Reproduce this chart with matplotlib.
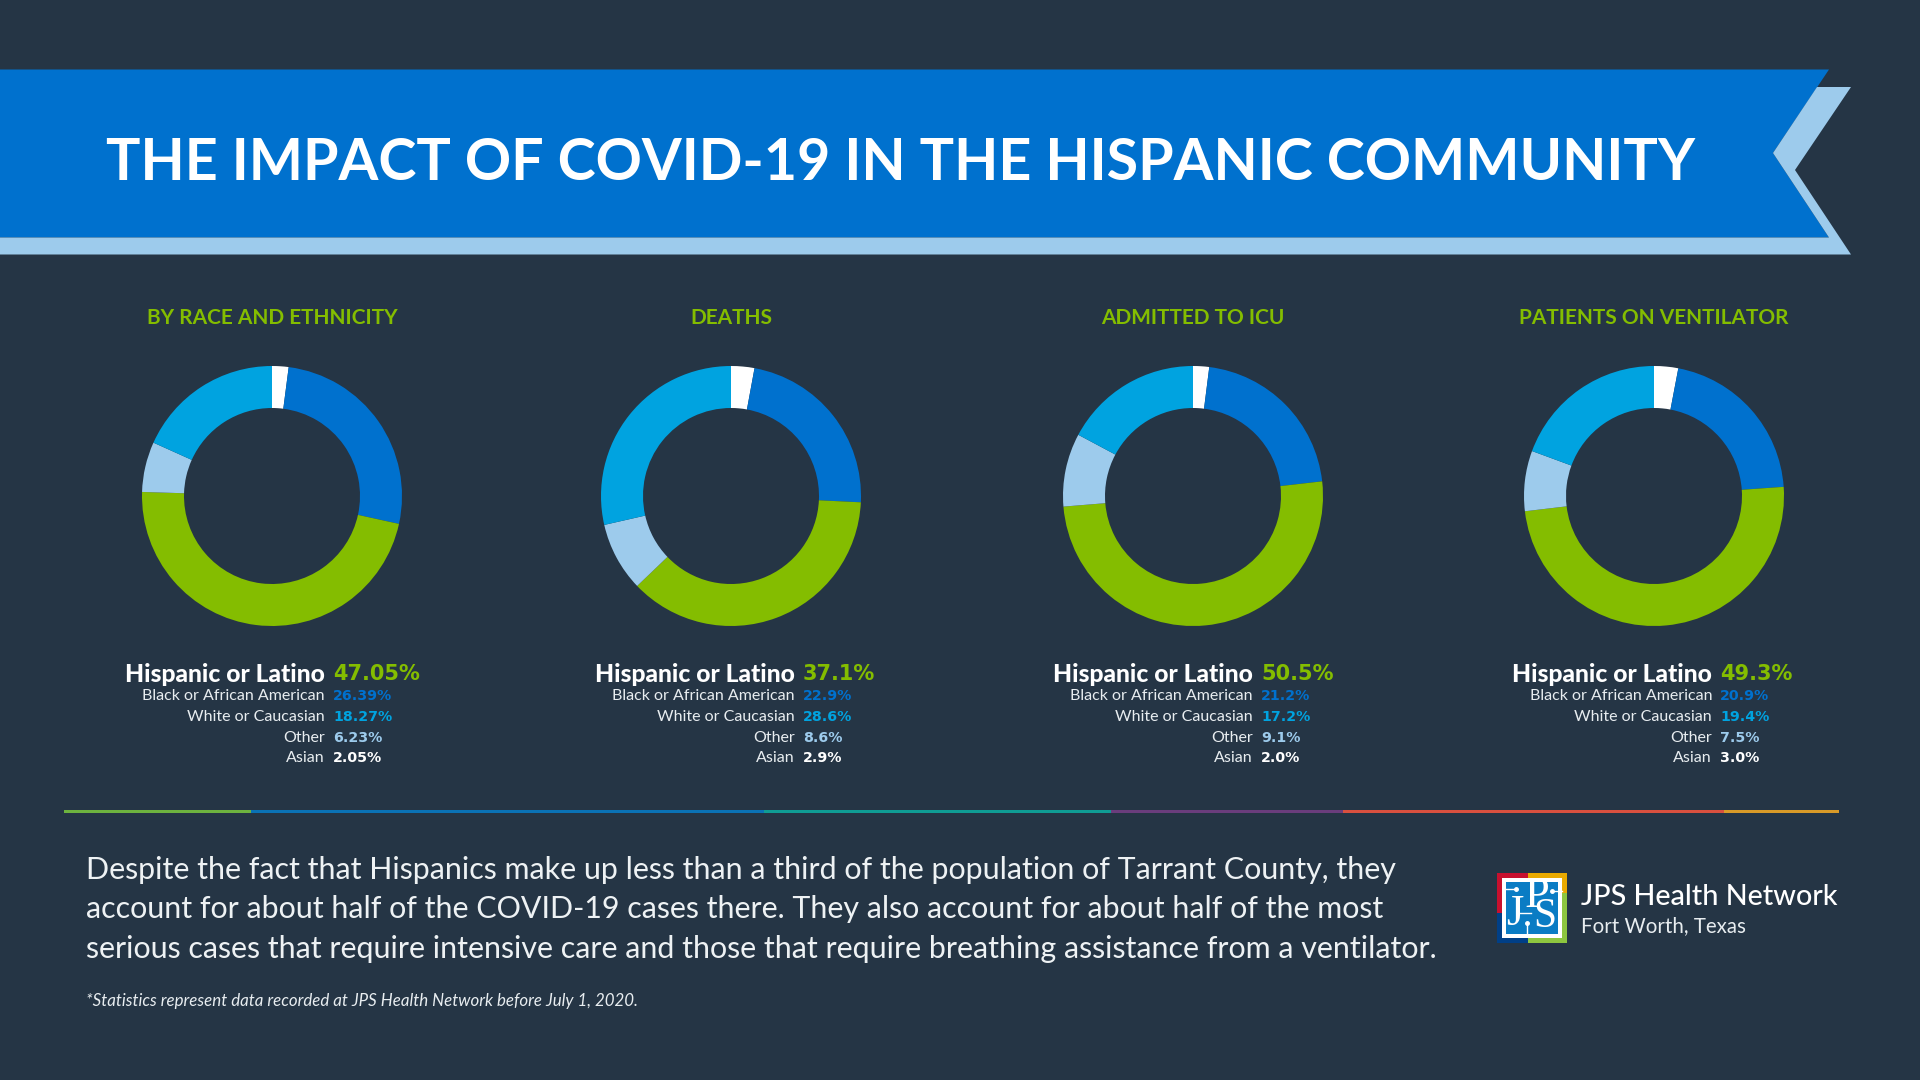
import matplotlib
matplotlib.use("Agg")
import matplotlib.pyplot as plt
from matplotlib.patches import Polygon, Rectangle

# data
panels = ["BY RACE AND ETHNICITY", "DEATHS", "ADMITTED TO ICU", "PATIENTS ON VENTILATOR"]
categories = ["Hispanic or Latino", "Black or African American", "White or Caucasian", "Other", "Asian"]
hispanic = [47.05, 37.1, 50.5, 49.3]
black = [26.39, 22.9, 21.2, 20.9]
white = [18.27, 28.6, 17.2, 19.4]
other = [6.23, 8.6, 9.1, 7.5]
asian = [2.05, 2.9, 2.0, 3.0]
value_labels = [
    ["47.05%", "26.39%", "18.27%", "6.23%", "2.05%"],
    ["37.1%", "22.9%", "28.6%", "8.6%", "2.9%"],
    ["50.5%", "21.2%", "17.2%", "9.1%", "2.0%"],
    ["49.3%", "20.9%", "19.4%", "7.5%", "3.0%"],
]

BG = "#253545"
GREEN = "#84bd00"
BLUE = "#0071ce"
CYAN = "#00a3e0"
LIGHT = "#9dcbec"
WHITE = "#ffffff"
row_colors = [GREEN, BLUE, CYAN, LIGHT, WHITE]

W, H = 1920, 1080
fig = plt.figure(figsize=(W / 100, H / 100), dpi=100, facecolor=BG)
plt.rcParams["font.family"] = ["Lato", "DejaVu Sans"]

# background layer in pixel coordinates
bg = fig.add_axes([0, 0, 1, 1])
bg.set_xlim(0, W)
bg.set_ylim(H, 0)
bg.axis("off")

# banner
bg.add_patch(Polygon([(0, 69.5), (1829, 69.5), (1773, 153), (1829, 237.5), (0, 237.5)], fc=BLUE, ec="none"))
bg.add_patch(Polygon([(0, 237.5), (1829, 237.5), (1773, 153), (1817, 87), (1851, 87),
                      (1795, 170), (1851, 254.5), (0, 254.5)], fc=LIGHT, ec="none"))
bg.text(106, 164, "THE IMPACT OF COVID-19 IN THE HISPANIC COMMUNITY", color=WHITE,
        fontsize=41.3, fontweight="bold", va="center", ha="left")

# donuts
centers = [272, 731, 1193, 1654]
label_right = [325, 795, 1253, 1712]
value_left = [333, 803, 1261, 1720]
row_y = [674, 696, 717, 738, 758]
R = 130

for i, cx in enumerate(centers):
    bg.text(cx, 318, panels[i], color=GREEN, fontsize=15, fontweight="bold", ha="center", va="center")

    ax = fig.add_axes([(cx - R) / W, 1 - (496 + R) / H, 2 * R / W, 2 * R / H])
    ax.pie([asian[i], black[i], hispanic[i], other[i], white[i]],
           colors=[WHITE, BLUE, GREEN, LIGHT, CYAN],
           startangle=90, counterclock=False, radius=1,
           wedgeprops={"width": 42 / R, "linewidth": 0})
    ax.set_xlim(-1, 1)
    ax.set_ylim(-1, 1)

    for j, cat in enumerate(categories):
        if j == 0:
            bg.text(label_right[i], row_y[j], cat, color=WHITE, fontsize=17.7, fontweight="black",
                    ha="right", va="center")
            bg.text(value_left[i], row_y[j], value_labels[i][j], color=row_colors[j], fontsize=15,
                    fontweight="bold", family="DejaVu Sans", ha="left", va="center")
        else:
            bg.text(label_right[i], row_y[j], cat, color="#e8edf0", fontsize=11.5,
                    ha="right", va="center")
            bg.text(value_left[i], row_y[j], value_labels[i][j], color=row_colors[j], fontsize=10.2,
                    fontweight="bold", family="DejaVu Sans", ha="left", va="center")

# multicolour rule
rule_x = [64, 251, 764, 1111, 1343, 1724, 1839]
rule_colors = ["#6db33f", "#0a72b5", "#0f9c94", "#6a3d7c", "#d9503f", "#d89a28"]
for k, c in enumerate(rule_colors):
    bg.add_patch(Rectangle((rule_x[k], 809.5), rule_x[k + 1] - rule_x[k], 3, fc=c, ec="none"))

# body copy
body = ["Despite the fact that Hispanics make up less than a third of the population of Tarrant County, they",
        "account for about half of the COVID-19 cases there. They also account for about half of the most",
        "serious cases that require intensive care and those that require breathing assistance from a ventilator."]
for y, line in zip([870, 909, 949], body):
    bg.text(86, y, line, color="#eef2f4", fontsize=21.9, ha="left", va="center")
bg.text(86, 1001, "*Statistics represent data recorded at JPS Health Network before July 1, 2020.",
        color="#e8edf0", fontsize=12.15, fontstyle="italic", ha="left", va="center")

# logo
bg.add_patch(Rectangle((1497, 873), 31, 40, fc="#c8102e", ec="none"))
bg.add_patch(Rectangle((1528, 873), 39, 20, fc="#eaaa00", ec="none"))
bg.add_patch(Rectangle((1497, 913), 31, 30, fc="#003f87", ec="none"))
bg.add_patch(Rectangle((1528, 893), 39, 50, fc="#8dc63f", ec="none"))
bg.add_patch(Rectangle((1502, 878), 60, 60, fc=WHITE, ec="none"))
bg.add_patch(Rectangle((1506, 882), 52, 52, fc="#0a7cc4", ec="none"))
bg.text(1515, 914, "J", color=WHITE, fontsize=32, family="Liberation Serif", ha="center", va="center")
bg.text(1537, 896, "P", color=WHITE, fontsize=32, family="Liberation Serif", ha="center", va="center")
bg.text(1545, 917, "S", color=WHITE, fontsize=30, family="Liberation Serif", ha="center", va="center")
bg.plot([1503, 1516], [889, 889], color=WHITE, lw=1, marker="o", ms=2.5, markevery=[1])
bg.plot([1562, 1552], [891, 891], color=WHITE, lw=1, marker="o", ms=2.5, markevery=[1])
bg.plot([1527, 1527], [934, 923], color=WHITE, lw=1, marker="o", ms=2.5, markevery=[1])
bg.plot([1517, 1531], [913, 913], color=WHITE, lw=1)
bg.set_xlim(0, W)
bg.set_ylim(H, 0)
bg.text(1581, 897, "JPS Health Network", color=WHITE, fontsize=20.7, fontweight="medium", ha="left", va="center")
bg.text(1581, 926, "Fort Worth, Texas", color="#e8edf0", fontsize=14.8, ha="left", va="center")

fig.savefig("out.png", dpi=100, facecolor=BG)
